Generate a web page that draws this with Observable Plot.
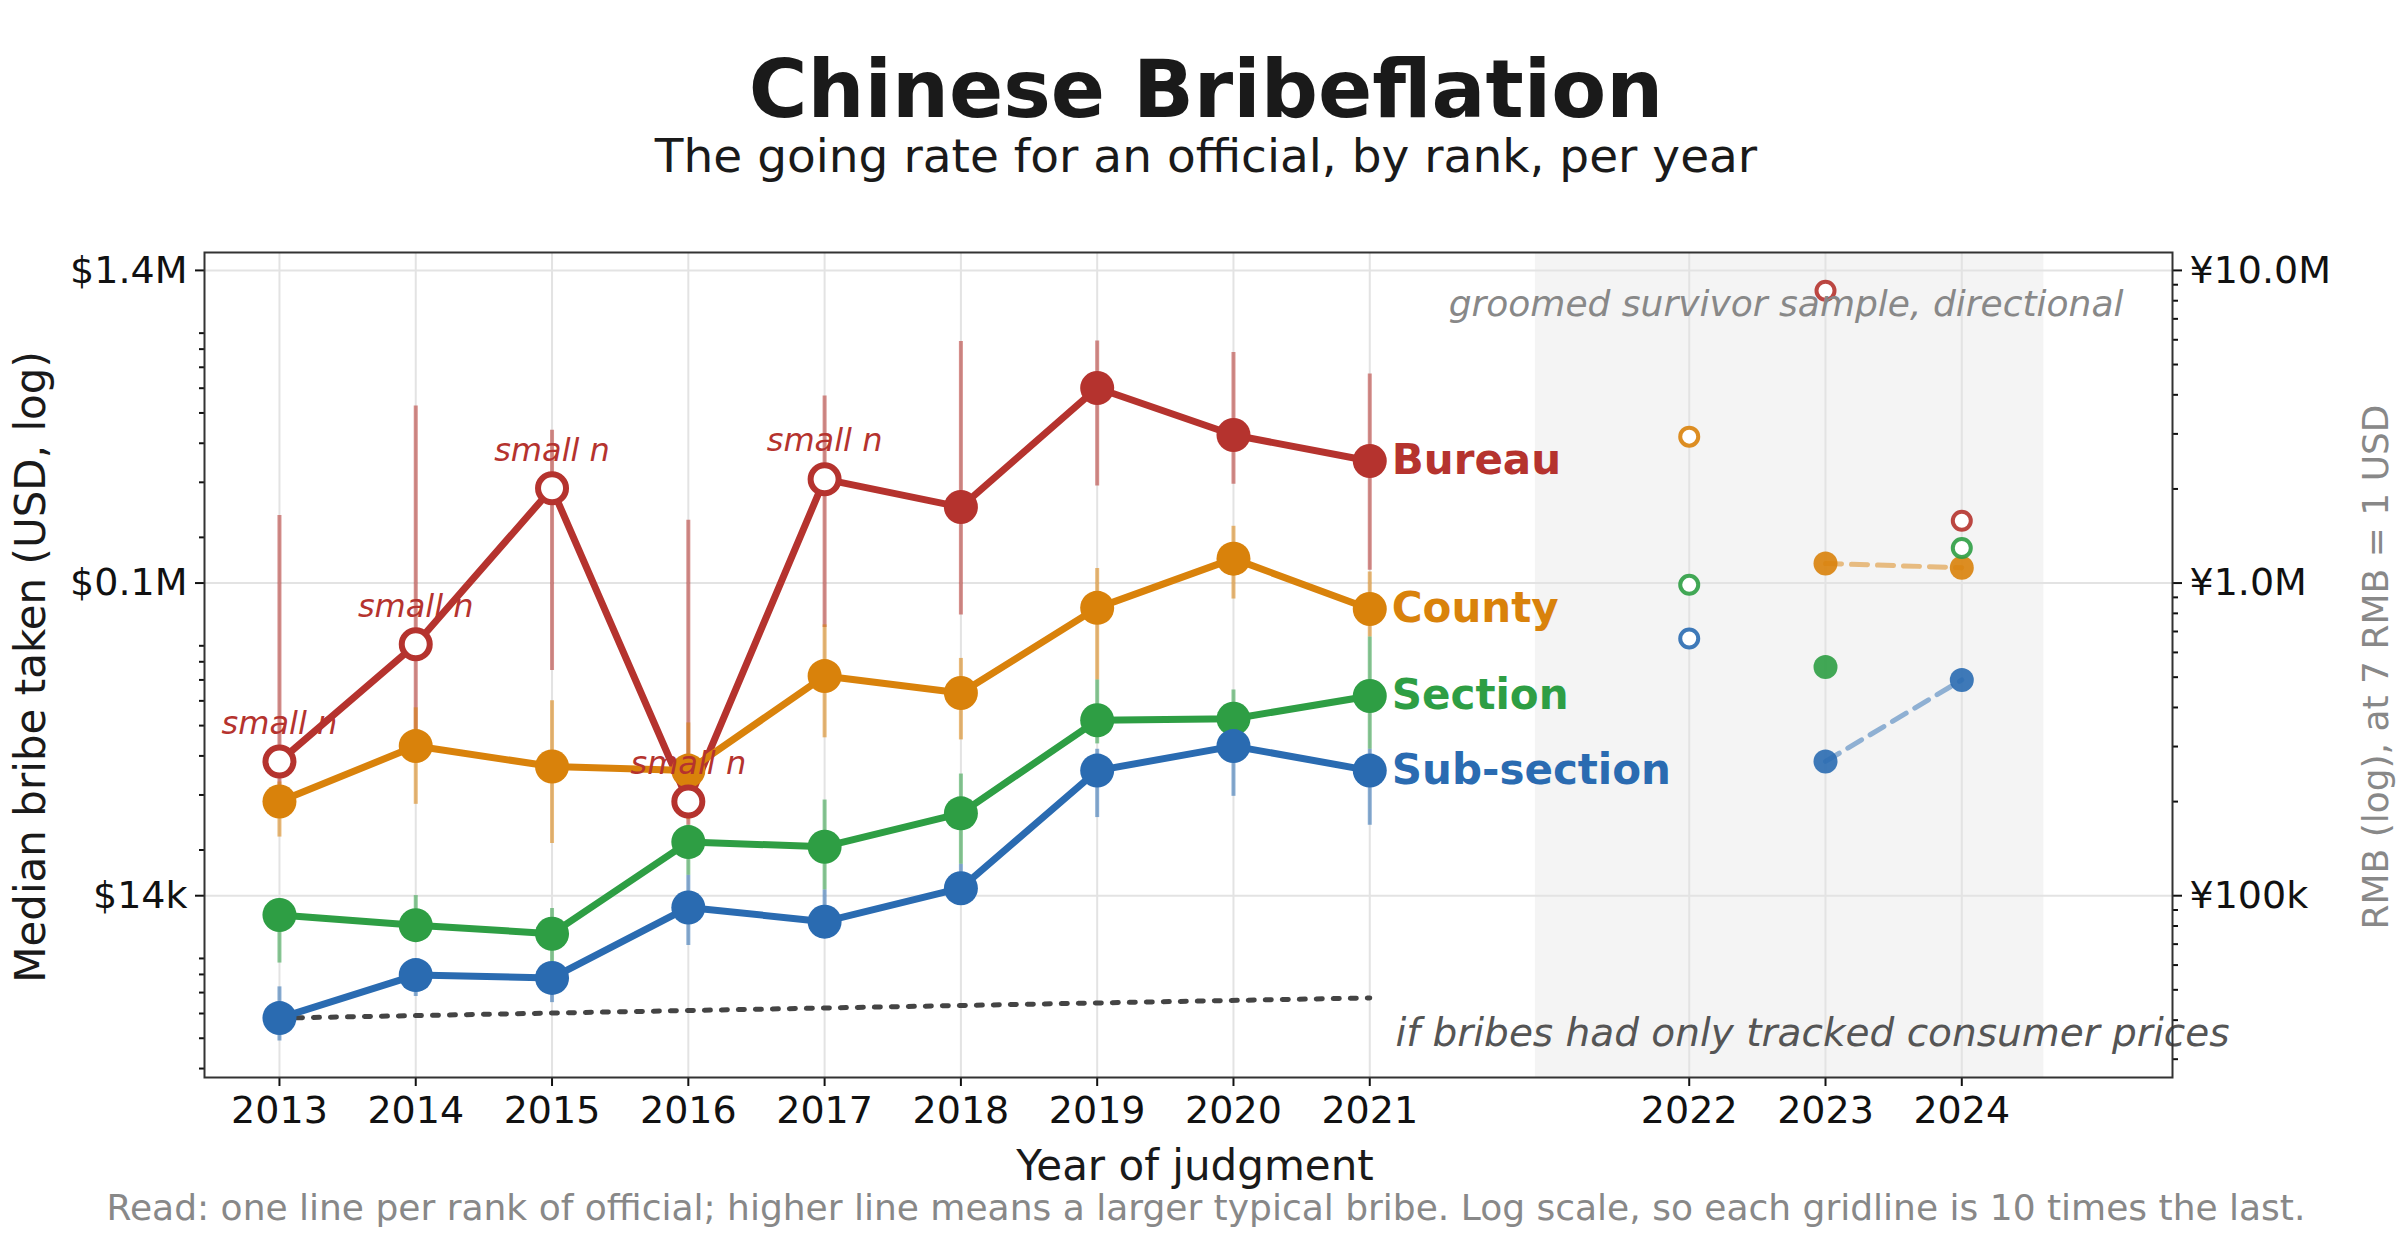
<!DOCTYPE html>
<html><head><meta charset="utf-8">
<script src="https://cdn.jsdelivr.net/npm/d3@7"></script>
<script src="https://cdn.jsdelivr.net/npm/@observablehq/plot@0.6"></script>
<style>
body{margin:0;background:#fff;font-family:"DejaVu Sans",sans-serif;}
#wrap{position:relative;width:2400px;height:1260px;}
.t{position:absolute;transform:translate(-50%,-50%);white-space:nowrap;color:#1a1a1a;line-height:1;}
</style></head><body>
<div id="wrap">
<div class="t" style="left:1206px;top:90px;font-size:80px;font-weight:bold;">Chinese Bribeflation</div>
<div class="t" style="left:1206px;top:155px;font-size:47px;">The going rate for an official, by rank, per year</div>
<div class="t" style="left:1195px;top:1166px;font-size:42px;">Year of judgment</div>
<div class="t" style="left:1206px;top:1208px;font-size:36px;color:#888;">Read: one line per rank of official; higher line means a larger typical bribe. Log scale, so each gridline is 10 times the last.</div>
<div class="t" style="left:31px;top:667px;font-size:42px;transform:translate(-50%,-50%) rotate(-90deg);">Median bribe taken (USD, log)</div>
<div class="t" style="left:2376px;top:667px;font-size:36px;color:#888;transform:translate(-50%,-50%) rotate(-90deg);">RMB (log), at 7 RMB = 1 USD</div>
</div>
<script>
const years = [2013,2014,2015,2016,2017,2018,2019,2020,2021,2022,2023,2024];
const bureau     = [38400, 91000, 287000, 28600, 307000, 250000, 601000, 425000, 351000, null, 1230000, 226000];
const county     = [28600, 43000, 37000, 35900, 72000, 63600, 119000, 171000, 118000, 420000, 165000, 160000];
const section    = [12400, 11500, 10800, 21200, 20500, 26200, 52000, 52600, 62200, 141000, 77000, 185000];
const subsection = [5800, 7960, 7800, 13100, 11800, 15100, 35900, 43000, 35900, 95000, 38400, 70000];
// interval low/high, 2013-2021
const bureauLo  = [29000, 42000, 75000, 24000, 103000, 113000, 292000, 296000, 157000];
const bureauHi  = [235000, 526000, 440000, 227000, 567000, 846000, 850000, 780000, 666000];
const countyLo  = [22000, 28000, 21000, 25000, 45700, 45000, 70000, 127000, 96000];
const countyHi  = [33000, 57000, 60000, 51000, 105000, 82000, 159000, 217000, 155000];
const sectionLo = [8700, 10200, 8700, 16600, 14900, 18000, 43700, 44000, 42000];
const sectionHi = [14000, 14300, 13000, 24000, 28900, 35000, 70000, 65000, 96000];
const subLo     = [4900, 6800, 6500, 9900, 11000, 14300, 25400, 29700, 24000];
const subHi     = [7300, 8700, 8500, 16600, 14900, 18000, 42000, 50000, 42000];
// hollow (small-sample) markers
const bureauHollow  = [1,1,1,1,1,0,0,0,0,1,1,1];
const countyHollow  = [0,0,0,0,0,0,0,0,0,1,0,0];
const sectionHollow = [0,0,0,0,0,0,0,0,0,1,0,1];
const subHollow     = [0,0,0,0,0,0,0,0,0,1,0,0];
const cpiYears = [2013, 2021];
const cpiValues = [5800, 6730];
const seriesNames = ["Bureau","County","Section","Sub-section"];
const colors = ["#b5332e","#d9820b","#2e9e44","#2a6bb1"];
const usdTicks = [1e5/7, 1e6/7, 1e7/7];
const usdLabels = ["$14k","$0.1M","$1.4M"];
const rmbLabels = ["¥100k","¥1.0M","¥10.0M"];
const gapShift = 1.344;     // axis break between 2021 and 2022
const shadeX = [2022.215, 2025.946];  // shaded band, in plotted x units

const xp = y => y <= 2021 ? y : y + gapShift;
const vals = [bureau, county, section, subsection];
const los = [bureauLo, countyLo, sectionLo, subLo];
const his = [bureauHi, countyHi, sectionHi, subHi];
const hol = [bureauHollow, countyHollow, sectionHollow, subHollow];

const pts = [], bars = [];
seriesNames.forEach((s, i) => {
  years.forEach((y, j) => {
    if (vals[i][j] != null) pts.push({s, c: colors[i], x: xp(y), year: y, v: vals[i][j], hollow: !!hol[i][j], early: y <= 2021});
    if (j < 9) bars.push({s, c: colors[i], x: xp(y), lo: los[i][j], hi: his[i][j]});
  });
});
const main = pts.filter(d => d.early);
const late = pts.filter(d => !d.early);
const lateLine = late.filter(d => !d.hollow && d.year >= 2023);
const cpi = cpiYears.map((y, i) => ({x: xp(y), v: cpiValues[i]}));
const smallN = main.filter(d => d.s === "Bureau" && d.hollow);
const labels = main.filter(d => d.year === 2021);

const minorL = [], minorR = [];
for (let e = 3; e <= 6; e++) for (let k = 2; k <= 9; k++) minorL.push(k * 10 ** e);
for (let e = 4; e <= 7; e++) for (let k = 2; k <= 9; k++) minorR.push(k * 10 ** e / 7);
const yDom = [3745, 1.63e6];
const inDom = v => v >= yDom[0] && v <= yDom[1];
const xTicks = years.map(xp);
const usdFmt = d => usdLabels[usdTicks.findIndex(t => Math.abs(t - d) / t < 1e-6)] ?? "";
const rmbFmt = d => rmbLabels[usdTicks.findIndex(t => Math.abs(t - d) / t < 1e-6)] ?? "";
const yearFmt = d => String(years[xTicks.findIndex(t => Math.abs(t - d) < 1e-6)]);

const chart = Plot.plot({
  width: 2400, height: 1260,
  marginLeft: 204, marginRight: 228, marginTop: 252, marginBottom: 183,
  style: {fontFamily: "DejaVu Sans", fontSize: "38px", color: "#111", background: "transparent"},
  x: {domain: [2012.45, 2026.89]},
  y: {type: "log", domain: yDom},
  color: {type: "identity"},
  marks: [
    Plot.rectY([{}], {x1: shadeX[0], x2: shadeX[1], y1: yDom[0], y2: yDom[1], fill: "#f4f4f4"}),
    Plot.ruleX(xTicks, {stroke: "#e3e3e3", strokeWidth: 2}),
    Plot.ruleY(usdTicks, {stroke: "#e3e3e3", strokeWidth: 2}),
    Plot.axisX({ticks: xTicks, tickFormat: yearFmt, tickSize: 9, tickPadding: 10, fontSize: 38, label: null, strokeWidth: 2}),
    Plot.axisY({anchor: "left", ticks: usdTicks, tickFormat: usdFmt, tickSize: 9, tickPadding: 8, fontSize: 38, label: null, strokeWidth: 2}),
    Plot.axisY({anchor: "left", ticks: minorL.filter(inDom), tickFormat: () => "", tickSize: 5, label: null, strokeWidth: 2}),
    Plot.axisY({anchor: "right", ticks: usdTicks, tickFormat: rmbFmt, tickSize: 9, tickPadding: 8, fontSize: 38, label: null, strokeWidth: 2}),
    Plot.axisY({anchor: "right", ticks: minorR.filter(inDom), tickFormat: () => "", tickSize: 5, label: null, strokeWidth: 2}),
    Plot.ruleX(bars, {x: "x", y1: "lo", y2: "hi", stroke: "c", strokeOpacity: 0.55, strokeWidth: 4}),
    Plot.line(cpi, {x: "x", y: "v", stroke: "#444", strokeWidth: 5, strokeDasharray: "6,11"}),
    Plot.line(main, {x: "x", y: "v", z: "s", stroke: "c", strokeWidth: 7}),
    Plot.line(lateLine.filter(d => d.s !== "Section"), {x: "x", y: "v", z: "s", stroke: "c", strokeOpacity: 0.5, strokeWidth: 5, strokeDasharray: "16,10"}),
    Plot.dot(main.filter(d => !d.hollow), {x: "x", y: "v", fill: "c", r: 17}),
    Plot.dot(main.filter(d => d.hollow), {x: "x", y: "v", fill: "white", stroke: "c", strokeWidth: 6, r: 14}),
    Plot.dot(late.filter(d => !d.hollow), {x: "x", y: "v", fill: "c", fillOpacity: 0.9, r: 12}),
    Plot.dot(late.filter(d => d.hollow), {x: "x", y: "v", fill: "white", stroke: "c", strokeOpacity: 0.9, strokeWidth: 4, r: 9}),
    Plot.text(smallN, {x: "x", y: "v", text: () => "small n", dy: -38, fill: "c", fontStyle: "italic", fontSize: 32}),
    Plot.text(labels, {x: "x", y: "v", text: "s", dx: 22, textAnchor: "start", fill: "c", fontWeight: "bold", fontSize: 42}),
    Plot.text(["groomed survivor sample, directional"], {frameAnchor: "top-right", dx: -49, dy: 38, fill: "#888", fontStyle: "italic", fontSize: 36}),
    Plot.text(["if bribes had only tracked consumer prices"], {frameAnchor: "bottom-right", dx: 57, dy: -32, fill: "#555", fontStyle: "italic", fontSize: 39}),
    Plot.frame({stroke: "#333", strokeWidth: 2})
  ]
});
chart.style.position = "absolute"; chart.style.left = "0"; chart.style.top = "0";
document.getElementById("wrap").prepend(chart);
</script>
</body></html>
